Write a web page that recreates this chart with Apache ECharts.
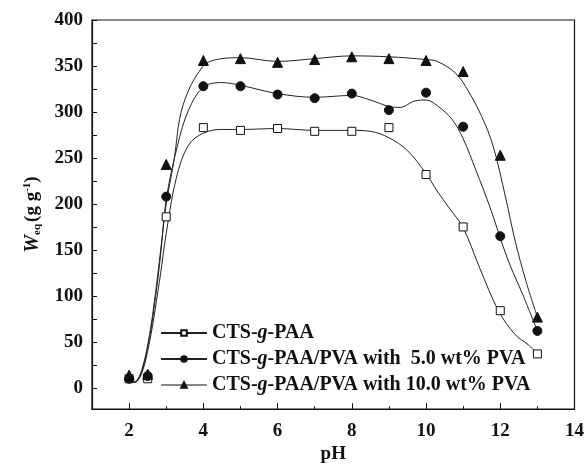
<!DOCTYPE html>
<html><head><meta charset="utf-8">
<script src="https://cdn.jsdelivr.net/npm/echarts@6/dist/echarts.min.js"></script>
<style>html,body{margin:0;padding:0;background:#fff}#c{width:587px;height:469px}</style>
</head><body><div id="c"></div>
<script>
var seriesNames = ['CTS-g-PAA', 'CTS-g-PAA/PVA with  5.0 wt% PVA', 'CTS-g-PAA/PVA with 10.0 wt% PVA'];
var pH = [2, 2.5, 3, 4, 5, 6, 7, 8, 9, 10, 11, 12, 13];
var weqPAA = [10, 10, 186, 283, 280, 282, 279, 279, 283, 232, 175, 84, 37];
var weqPVA5 = [10, 13, 208, 328, 328, 319, 315, 320, 302, 321, 284, 165, 62];
var weqPVA10 = [14, 15, 243, 356, 358, 354, 357, 360, 358, 356, 344, 253, 77];

// fitted curves
var fitPAAx = [2, 2.15, 2.35, 2.55, 2.7, 2.85, 3.0, 3.27, 3.6, 4.0, 4.5, 5, 6, 7, 8, 8.5, 9, 9.5, 10, 10.3, 10.6, 11, 11.45, 11.95, 12.4, 12.75, 13];
var fitPAAy = [8, 6, 17, 50, 85, 125, 168, 228, 264, 277, 281, 281, 282, 280, 280, 279, 272, 258, 233, 214, 197, 174, 130, 84, 58, 47, 37];
var fitPVA5x = [2, 2.15, 2.35, 2.55, 2.7, 2.85, 3.0, 3.3, 3.6, 4.0, 4.5, 5, 6, 7, 8, 8.5, 9, 9.3, 9.7, 10, 10.3, 10.7, 11, 11.35, 11.7, 12.2, 12.6, 13];
var fitPVA5y = [8, 6, 19, 55, 95, 145, 205, 263, 302, 327, 332, 329, 320, 316, 318, 313, 306, 305, 312, 313, 307, 292, 271, 236, 199, 140, 102, 62];
var fitPVA10x = [2, 2.15, 2.35, 2.55, 2.7, 2.85, 3.0, 3.2, 3.45, 4.0, 4.5, 5, 6, 7, 8, 9, 10, 10.3, 10.8, 11.15, 11.5, 11.8, 12.15, 12.4, 12.7, 13];
var fitPVA10y = [10, 7, 21, 58, 100, 150, 200, 245, 307, 350, 358, 359, 355, 358, 361, 360, 357, 355, 342, 322, 295, 264, 206, 160, 115, 77];

var xMajor = [2, 4, 6, 8, 10, 12, 14];
var xMinor = [3, 5, 7, 9, 11, 13];
var yLabels = [0, 50, 100, 150, 200, 250, 300, 350, 400];
var yTicks = [0, 25, 50, 75, 100, 125, 150, 175, 200, 225, 250, 275, 300, 325, 350, 375, 400];

function zip(a, b) { return a.map(function (v, i) { return [v, b[i]]; }); }

var FONT = '"Liberation Serif", "Times New Roman", serif';
var chart = echarts.init(document.getElementById('c'), null, {renderer: 'canvas'});
var symbols = ['rect', 'circle', 'triangle'];
var symSizes = [8, 9, 10];
var fills = ['#fff', '#111', '#111'];
var fits = [zip(fitPAAx, fitPAAy), zip(fitPVA5x, fitPVA5y), zip(fitPVA10x, fitPVA10y)];
var pts = [zip(pH, weqPAA), zip(pH, weqPVA5), zip(pH, weqPVA10)];

var series = [];
for (var i = 0; i < 3; i++) {
  series.push({
    name: seriesNames[i], type: 'line', data: fits[i], smooth: 0.35,
    showSymbol: false, symbol: symbols[i], symbolSize: symSizes[i],
    lineStyle: {color: '#222', width: 1},
    itemStyle: {color: fills[i], borderColor: '#111', borderWidth: 1},
    silent: true, z: 2
  });
}
for (var j = 0; j < 3; j++) {
  series.push({
    name: 'pts' + j, type: 'scatter', data: pts[j], symbol: symbols[j], symbolSize: symSizes[j],
    itemStyle: {color: fills[j], borderColor: '#111', borderWidth: 1, opacity: 1}, z: 3
  });
}

var axisCommon = {
  axisLine: {show: true, onZero: false, lineStyle: {color: '#111', width: 1.2}},
  splitLine: {show: false}
};

chart.setOption({
  animation: false,
  grid: {left: 92, right: 10, top: 20, bottom: 57, show: true, borderColor: '#111', borderWidth: 1.2, backgroundColor: 'transparent'},
  legend: {
    orient: 'vertical', left: 155, top: 318, itemWidth: 46, itemHeight: 7, itemGap: 6,
    data: [
      {name: seriesNames[0]},
      {name: seriesNames[1]},
      {name: seriesNames[2], lineStyle: {color: '#888'}}
    ],
    formatter: function (n) { return n.replace('-g-', '-{i|g}-'); },
    textStyle: {fontFamily: FONT, fontWeight: 'bold', fontSize: 20, color: '#111',
      rich: {i: {fontFamily: FONT, fontWeight: 'bold', fontStyle: 'italic', fontSize: 20, color: '#111'}}}
  },
  xAxis: [
    Object.assign({
      type: 'value', min: 1, max: 14, position: 'bottom',
      name: 'pH', nameLocation: 'middle', nameGap: 34,
      nameTextStyle: {fontFamily: FONT, fontWeight: 'bold', fontSize: 19, color: '#111'},
      axisTick: {show: true, inside: true, length: 6, customValues: xMajor, lineStyle: {color: '#111'}},
      axisLabel: {customValues: xMajor, margin: 12, fontFamily: FONT, fontWeight: 'bold', fontSize: 19, color: '#111'}
    }, axisCommon),
    Object.assign({
      type: 'value', min: 1, max: 14, position: 'bottom', gridIndex: 0,
      axisTick: {show: true, inside: true, length: 3, customValues: xMinor, lineStyle: {color: '#111'}},
      axisLabel: {show: false}
    }, axisCommon)
  ],
  yAxis: [
    Object.assign({
      type: 'value', min: -23, max: 400, position: 'left',
      name: '{w|W}{sub|eq}{n|(g g}{sup|-1}{n|)}', nameLocation: 'middle', nameGap: 49, nameRotate: 90,
      nameTextStyle: {fontFamily: FONT, fontWeight: 'bold', fontSize: 19, color: '#111',
        rich: {
          w: {fontFamily: FONT, fontWeight: 'bold', fontStyle: 'italic', fontSize: 20, color: '#111'},
          sub: {fontFamily: FONT, fontWeight: 'bold', fontSize: 11, color: '#111', padding: [10, 2, 0, 0]},
          n: {fontFamily: FONT, fontWeight: 'bold', fontSize: 19, color: '#111'},
          sup: {fontFamily: FONT, fontWeight: 'bold', fontSize: 11, color: '#111', padding: [0, 0, 10, 0]}
        }},
      axisTick: {show: true, inside: true, length: 5, customValues: yTicks, lineStyle: {color: '#111'}},
      axisLabel: {customValues: yLabels, margin: 9, fontFamily: FONT, fontWeight: 'bold', fontSize: 19, color: '#111'}
    }, axisCommon)
  ],
  series: series
});
</script></body></html>
